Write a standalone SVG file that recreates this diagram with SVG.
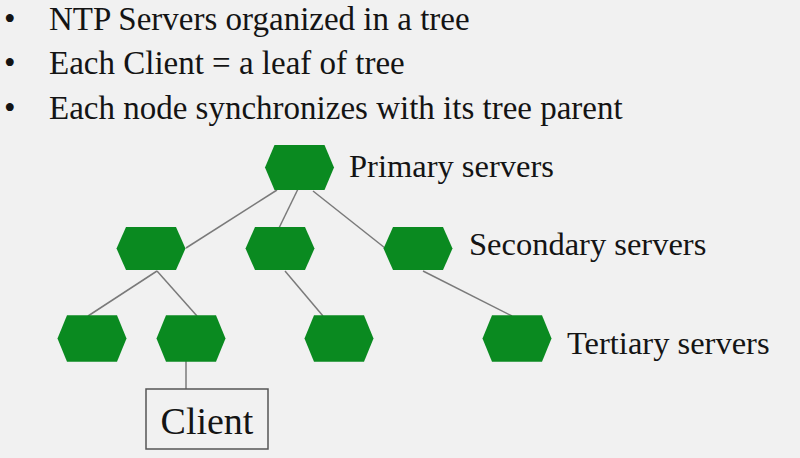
<svg xmlns="http://www.w3.org/2000/svg" xmlns:xlink="http://www.w3.org/1999/xlink" width="800" height="458" viewBox="0 0 800 458">
  <style>
    .txt { font-family: "Liberation Serif", "Times New Roman", serif; fill: #141414; }
    .bul { font-size: 33px; }
    .lbl { font-size: 32.5px; }
    .conn line { stroke: #7a7a7a; stroke-width: 1.5; }
    .hex { fill: #0a8a20; }
  </style>
  <defs>
    <polygon id="hexShape" points="-34.5,0 -25,-22.5 25,-22.5 34.5,0 25,22.5 -25,22.5"/>
  </defs>
  <rect x="0" y="0" width="800" height="458" fill="#f1f1f1"/>

  <g id="bullets">
    <text class="txt bul" x="4" y="29.5">•</text>
    <text class="txt bul" x="49" y="29.5">NTP Servers organized in a tree</text>
    <text class="txt bul" x="4" y="74">•</text>
    <text class="txt bul" x="49" y="74">Each Client = a leaf of tree</text>
    <text class="txt bul" x="4" y="119">•</text>
    <text class="txt bul" x="49" y="119">Each node synchronizes with its tree parent</text>
  </g>

  <g id="connectors" class="conn">
    <line x1="277" y1="190" x2="186" y2="248"/>
    <line x1="298" y1="189" x2="279" y2="228"/>
    <line x1="313" y1="191" x2="385" y2="248"/>
    <line x1="157" y1="271" x2="88" y2="316"/>
    <line x1="157" y1="271" x2="197" y2="316"/>
    <line x1="285" y1="271" x2="323" y2="316"/>
    <line x1="423" y1="271" x2="512" y2="316"/>
    <line x1="186" y1="361" x2="186" y2="389"/>
  </g>

  <g id="primary"><use xlink:href="#hexShape" class="hex" transform="translate(299.5,167.5)"/></g>
  <g id="secondary1"><use xlink:href="#hexShape" class="hex" transform="translate(151,248.5) scale(1,0.96)"/></g>
  <g id="secondary2"><use xlink:href="#hexShape" class="hex" transform="translate(280,248.5) scale(1,0.96)"/></g>
  <g id="secondary3"><use xlink:href="#hexShape" class="hex" transform="translate(418,248.5) scale(1,0.96)"/></g>
  <g id="tertiary1"><use xlink:href="#hexShape" class="hex" transform="translate(92,338.5) scale(1,1.03)"/></g>
  <g id="tertiary2"><use xlink:href="#hexShape" class="hex" transform="translate(191,338.5) scale(1,1.03)"/></g>
  <g id="tertiary3"><use xlink:href="#hexShape" class="hex" transform="translate(339,338.5) scale(1,1.03)"/></g>
  <g id="tertiary4"><use xlink:href="#hexShape" class="hex" transform="translate(517,338.5) scale(1,1.03)"/></g>

  <g id="client">
    <rect x="146" y="389" width="122" height="60" fill="none" stroke="#555" stroke-width="1.5"/>
    <text class="txt" x="207" y="434" font-size="38" text-anchor="middle">Client</text>
  </g>

  <g id="labels">
    <text class="txt lbl" x="349" y="177">Primary servers</text>
    <text class="txt lbl" x="469" y="255">Secondary servers</text>
    <text class="txt lbl" x="567" y="354">Tertiary servers</text>
  </g>
</svg>
